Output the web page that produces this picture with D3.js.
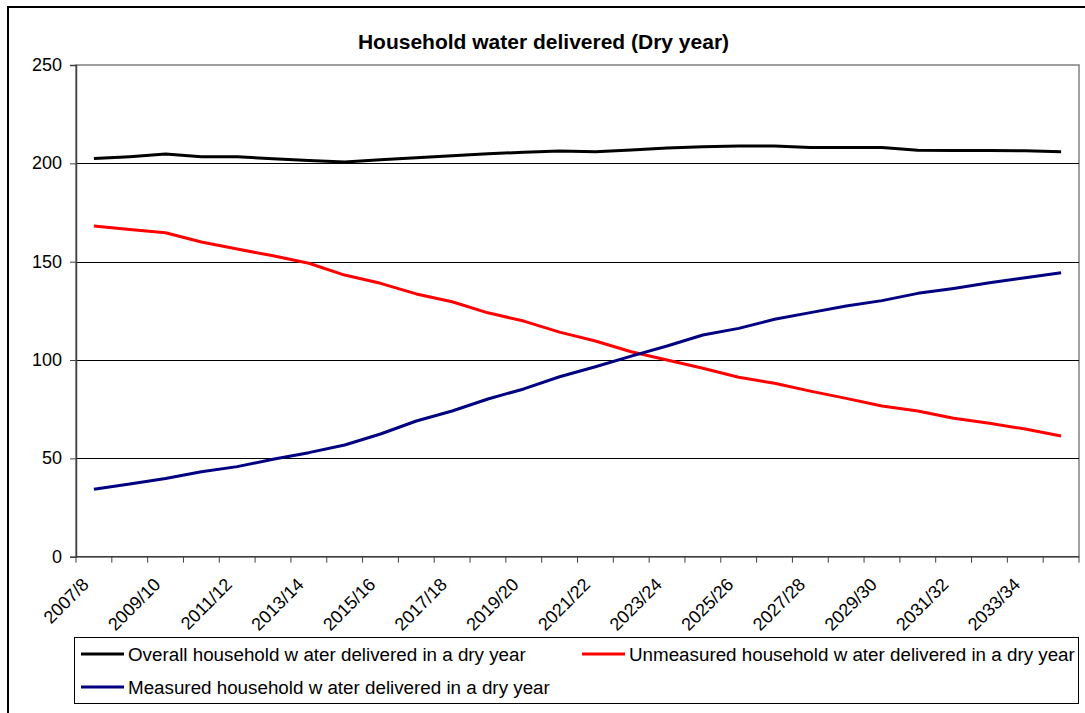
<!DOCTYPE html>
<html>
<head>
<meta charset="utf-8">
<script src="https://cdn.jsdelivr.net/npm/d3@7"></script>
<style>
  html, body { margin: 0; padding: 0; background: #fff; }
  svg { display: block; font-family: Arial, "Liberation Sans", sans-serif; }
</style>
</head>
<body>
<svg id="chart" width="1085" height="713"></svg>
<script>
// Financial years, 2007/8 through 2034/35
const years = ["2007/8","2008/9","2009/10","2010/11","2011/12","2012/13","2013/14","2014/15",
  "2015/16","2016/17","2017/18","2018/19","2019/20","2020/21","2021/22","2022/23","2023/24",
  "2024/25","2025/26","2026/27","2027/28","2028/29","2029/30","2030/31","2031/32","2032/33",
  "2033/34","2034/35"];

// Household water delivered in a dry year
const overall = [202.5, 203.4, 204.7, 203.4, 203.4, 202.3, 201.5, 200.7, 201.8, 202.9, 203.9,
  204.9, 205.6, 206.3, 205.9, 206.8, 207.8, 208.4, 208.8, 208.8, 208.1, 208.1, 208.1, 206.6,
  206.5, 206.5, 206.4, 205.9];
const unmeasured = [168.1, 166.4, 164.7, 160.0, 156.4, 153.0, 149.2, 143.2, 139.0, 133.6, 129.6,
  124.0, 119.8, 114.2, 109.7, 104.2, 100.0, 95.8, 91.2, 88.2, 84.2, 80.5, 76.6, 74.1, 70.4,
  67.8, 64.9, 61.4];
const measured = [34.3, 37.0, 39.8, 43.2, 45.8, 49.5, 52.9, 56.8, 62.4, 69.0, 74.1, 80.2, 85.3,
  91.5, 96.6, 102.0, 107.1, 112.7, 116.1, 120.7, 124.1, 127.5, 130.2, 133.9, 136.4, 139.3,
  141.8, 144.4];

const yTicks = [0, 50, 100, 150, 200, 250];
const xLabels = years.filter((d, i) => i % 2 === 0 && i < 27);

const seriesList = [
  { name: "Overall household w ater delivered in a dry year", values: overall, color: "#000000" },
  { name: "Unmeasured household w ater delivered in a dry year", values: unmeasured, color: "#ff0000" },
  { name: "Measured household w ater delivered in a dry year", values: measured, color: "#000080" }
];

const svg = d3.select("#chart");
const plot = { left: 76, right: 1079, top: 65, bottom: 556.7 };

// Outer chart frame (runs past the visible canvas on the right and bottom)
svg.append("rect")
  .attr("x", 8).attr("y", 7).attr("width", 1100).attr("height", 720)
  .attr("fill", "none").attr("stroke", "#000").attr("stroke-width", 2);

// Title
svg.append("text")
  .attr("x", 543.5).attr("y", 48.5)
  .attr("text-anchor", "middle")
  .attr("font-size", "21px").attr("font-weight", "bold")
  .text("Household water delivered (Dry year)");

// Scales
const x = d3.scaleBand().domain(years).range([plot.left, plot.right]).paddingInner(0).paddingOuter(0);
const y = d3.scaleLinear().domain([0, 250]).range([plot.bottom, plot.top]);
const cx = d => x(d) + x.bandwidth() / 2;

// Plot area border
svg.append("rect")
  .attr("x", plot.left).attr("y", plot.top)
  .attr("width", plot.right - plot.left).attr("height", plot.bottom - plot.top)
  .attr("fill", "#fff").attr("stroke", "#808080").attr("stroke-width", 1.5);

// Horizontal gridlines
svg.append("g")
  .selectAll("line")
  .data(yTicks.filter(v => v > 0 && v < 250))
  .join("line")
  .attr("x1", plot.left).attr("x2", plot.right)
  .attr("y1", d => Math.round(y(d)) + 0.5).attr("y2", d => Math.round(y(d)) + 0.5)
  .attr("stroke", "#000").attr("stroke-width", 1);

// Y axis
const yAxis = svg.append("g")
  .attr("transform", `translate(${plot.left},0)`)
  .call(d3.axisLeft(y).tickValues(yTicks).tickSize(6).tickPadding(8).tickFormat(d3.format("d")));
yAxis.select(".domain").attr("stroke", "#404040").attr("stroke-width", 1.5);
yAxis.selectAll(".tick line").attr("stroke", "#404040");
yAxis.selectAll(".tick text")
  .attr("font-size", "18px").attr("fill", "#000")
  .attr("dy", "0.3em")
  .attr("font-family", "Arial, 'Liberation Sans', sans-serif");

// X axis: ticks at category boundaries
const boundaries = years.map(d => x(d)).concat([plot.right]);
const xAxisG = svg.append("g");
xAxisG.append("line")
  .attr("x1", plot.left).attr("x2", plot.right)
  .attr("y1", plot.bottom).attr("y2", plot.bottom)
  .attr("stroke", "#404040").attr("stroke-width", 1.5);
xAxisG.selectAll("line.tick")
  .data(boundaries)
  .join("line")
  .attr("class", "tick")
  .attr("x1", d => d).attr("x2", d => d)
  .attr("y1", plot.bottom).attr("y2", plot.bottom + 6)
  .attr("stroke", "#404040").attr("stroke-width", 1);
xAxisG.selectAll("text")
  .data(xLabels)
  .join("text")
  .attr("text-anchor", "end")
  .attr("font-size", "18px")
  .attr("transform", d => `translate(${cx(d) - 4},${plot.bottom + 29}) rotate(-45)`)
  .text(d => d);

// Lines
const line = d3.line().x((d, i) => cx(years[i])).y(d => y(d));
svg.append("g")
  .selectAll("path")
  .data(seriesList)
  .join("path")
  .attr("d", s => line(s.values))
  .attr("fill", "none")
  .attr("stroke", s => s.color)
  .attr("stroke-width", 3)
  .attr("stroke-linejoin", "round");

// Legend
const legend = svg.append("g");
legend.append("rect")
  .attr("x", 74.5).attr("y", 637.5).attr("width", 1004).attr("height", 66)
  .attr("fill", "#fff").attr("stroke", "#000").attr("stroke-width", 1);
const legendPos = [
  { x: 81, y: 654 },
  { x: 582, y: 654 },
  { x: 81, y: 687 }
];
seriesList.forEach((s, i) => {
  const p = legendPos[i];
  legend.append("line")
    .attr("x1", p.x).attr("x2", p.x + 43)
    .attr("y1", p.y).attr("y2", p.y)
    .attr("stroke", s.color).attr("stroke-width", 3);
  legend.append("text")
    .attr("x", p.x + 47).attr("y", p.y)
    .attr("dy", "0.36em")
    .attr("font-size", "18.8px")
    .text(s.name);
});
</script>
</body>
</html>
